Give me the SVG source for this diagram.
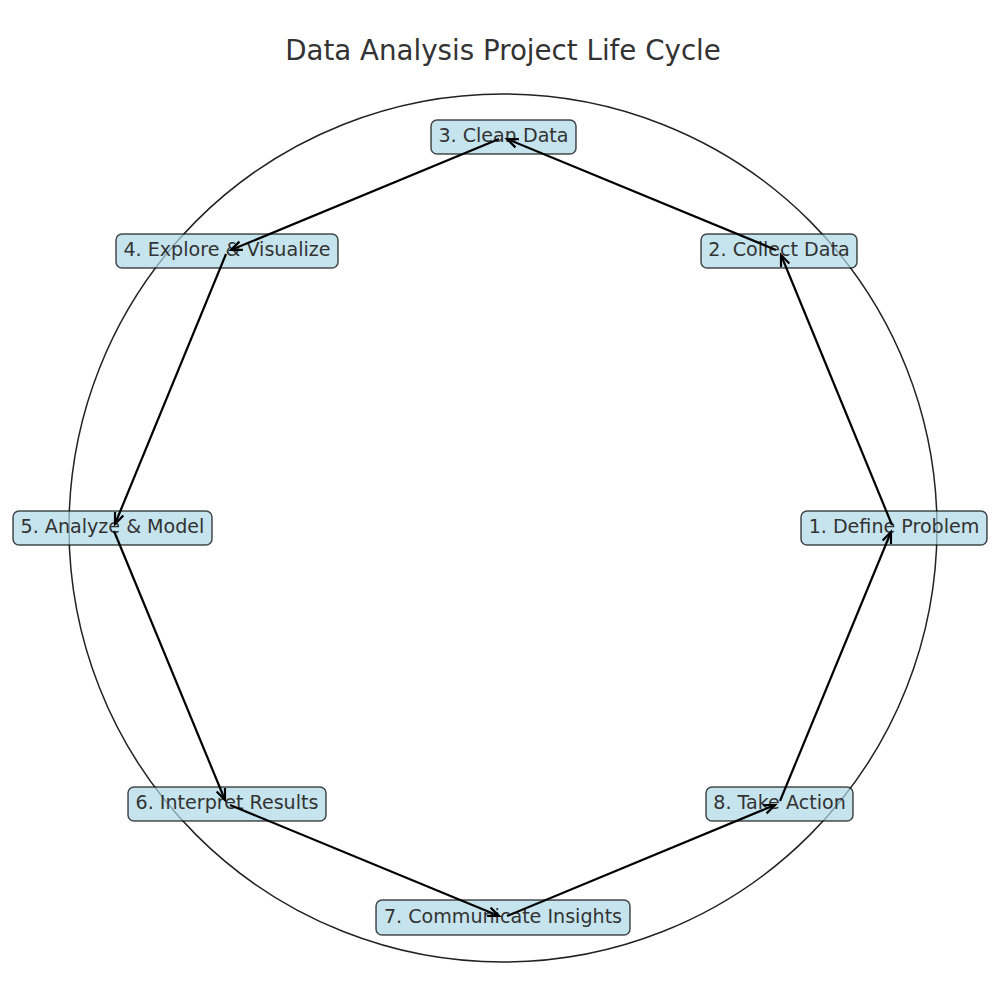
<svg xmlns="http://www.w3.org/2000/svg" width="1000" height="1000" viewBox="0 0 1000 1000">
<style>
.title{font-family:"DejaVu Sans",sans-serif;font-size:27.7px;fill:#333;text-anchor:middle}
.box{fill:#add8e6;fill-opacity:0.7;stroke:#000;stroke-opacity:0.7;stroke-width:1.5}
.lbl{font-family:"DejaVu Sans",sans-serif;font-size:19.1px;fill:#333;text-anchor:middle;dominant-baseline:central}
.arr{stroke:#000;stroke-width:2.2;fill:none;marker-end:url(#ah)}
</style>
<defs>
<marker id="ah" viewBox="0 0 12 10" markerUnits="userSpaceOnUse" markerWidth="12" markerHeight="10" refX="11" refY="5" orient="auto" overflow="visible">
<path d="M0,0.5 L11,5 L0,9.5" fill="none" stroke="#000" stroke-width="2.2"/>
</marker>
</defs>
<rect width="1000" height="1000" fill="#fff"/>
<text class="title" x="503" y="59.5">Data Analysis Project Life Cycle</text>
<circle cx="503" cy="528" r="434" fill="none" stroke="#222" stroke-width="1.5"/>
<g id="node1"><rect class="box" x="801" y="511" width="186" height="34" rx="6"/><text class="lbl" x="894" y="526.5">1. Define Problem</text></g>
<g id="node2"><rect class="box" x="701" y="234" width="156" height="34" rx="6"/><text class="lbl" x="779" y="249.5">2. Collect Data</text></g>
<g id="node3"><rect class="box" x="431" y="120" width="145" height="34" rx="6"/><text class="lbl" x="503.5" y="135.5">3. Clean Data</text></g>
<g id="node4"><rect class="box" x="116" y="234" width="222" height="34" rx="6"/><text class="lbl" x="227" y="249.5">4. Explore &amp; Visualize</text></g>
<g id="node5"><rect class="box" x="13" y="511" width="199" height="34" rx="6"/><text class="lbl" x="112.5" y="526.5">5. Analyze &amp; Model</text></g>
<g id="node6"><rect class="box" x="128" y="787" width="198" height="34" rx="6"/><text class="lbl" x="227" y="802.5">6. Interpret Results</text></g>
<g id="node7"><rect class="box" x="376" y="900" width="254" height="35" rx="6"/><text class="lbl" x="503" y="916">7. Communicate Insights</text></g>
<g id="node8"><rect class="box" x="706" y="787" width="147" height="34" rx="6"/><text class="lbl" x="779.5" y="802.5">8. Take Action</text></g>
<g id="connectors">
<line class="arr" x1="892" y1="525" x2="781" y2="255"/>
<line class="arr" x1="776" y1="250" x2="507" y2="139"/>
<line class="arr" x1="499" y1="139" x2="231" y2="250"/>
<line class="arr" x1="226" y1="254" x2="115" y2="524"/>
<line class="arr" x1="114" y1="531" x2="225" y2="800"/>
<line class="arr" x1="230" y1="805" x2="499" y2="916"/>
<line class="arr" x1="507" y1="916" x2="775" y2="805"/>
<line class="arr" x1="780" y1="801" x2="891" y2="532"/>
</g>
</svg>
